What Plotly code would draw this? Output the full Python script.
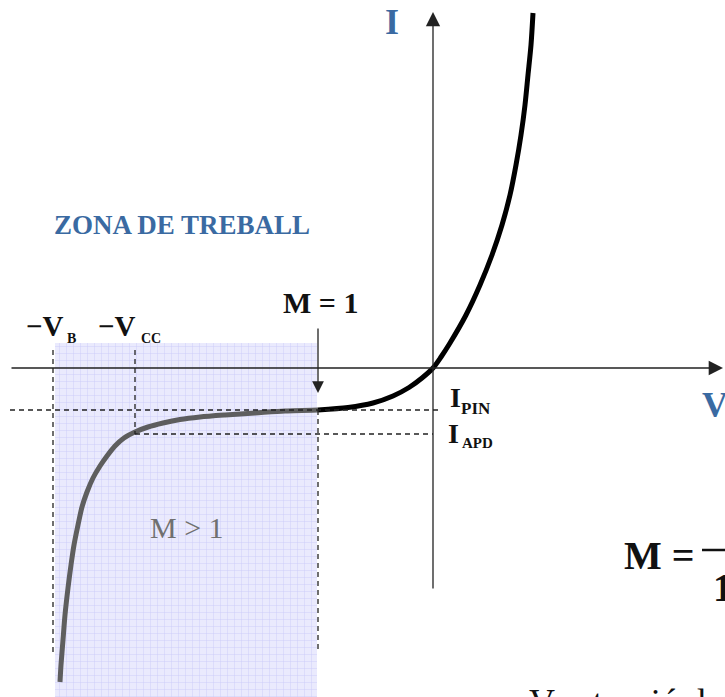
import plotly.graph_objects as go

# Avalanche photodiode I-V characteristic (arbitrary units, origin at V=0, I=0)
forward_v = [0, 8, 17, 33, 47, 59, 69, 77, 83, 88, 92, 95, 98, 100]
forward_i = [0, 11, 25, 53, 83, 113, 143, 173, 203, 233, 263, 293, 323, 355]

reverse_v = [-115, -85, -60, -40, -24, -11]
reverse_i = [-42, -39.5, -35, -28, -19.5, -10]

avalanche_v = [-115, -148, -178, -208, -233, -253, -270, -285, -298,
               -309, -318, -326, -333, -340, -346, -351, -355, -359,
               -362, -365, -368, -370, -372, -373]
avalanche_i = [-42, -43, -45, -47, -49, -51.5, -55, -59, -64,
               -70, -78, -88, -98, -110, -124, -139, -157, -177,
               -197, -220, -247, -272, -297, -314]

# Characteristic levels
I_PIN = -42
I_APD = -66
V_B = -380
V_CC = -298
V_M1 = -115

# Working zone (shaded)
zone_v = [-378, -116, -116, -378, -378]
zone_i = [25, 25, -335, -335, 25]

X_RANGE = [-433, 292]
Y_RANGE = [-329, 368]

SERIF = "Liberation Serif, Times New Roman, serif"
BLUE = "#3a6aa2"
INK = "#222222"

fig = go.Figure()

fig.add_trace(go.Scatter(
    x=zone_v, y=zone_i, mode="lines", fill="toself",
    line=dict(width=0, color="rgba(0,0,0,0)"),
    fillcolor="#e8e8fc",
    fillpattern=dict(shape="+", bgcolor="#eaeafd", fgcolor="#c9c9f7",
                     size=7, solidity=0.12, fillmode="replace"),
    hoverinfo="skip", showlegend=False))

# Axes drawn as lines with arrowheads
def arrow(x0, y0, x1, y1, width=1.3, size=2.2):
    fig.add_annotation(x=x1, y=y1, ax=x0, ay=y0, xref="x", yref="y",
                       axref="x", ayref="y", text="", showarrow=True,
                       arrowhead=2, arrowsize=size, arrowwidth=width,
                       arrowcolor=INK, standoff=0, startstandoff=0)

def seg(x0, y0, x1, y1, dash="solid", width=1.3, color=INK):
    fig.add_shape(type="line", x0=x0, y0=y0, x1=x1, y1=y1, xref="x", yref="y",
                  line=dict(color=color, width=width, dash=dash))

arrow(-423, 0, 290, 0)
arrow(0, -222, 0, 356)

DASH = "5px,4px"
seg(-423, I_PIN, 9, I_PIN, DASH)
seg(V_CC, I_APD, 0, I_APD, DASH)
seg(V_B, 18, V_B, -285, DASH)
seg(V_CC, 18, V_CC, I_APD, DASH)
seg(V_M1, I_PIN, V_M1, -285, DASH)

# M = 1 marker arrow
arrow(V_M1, 41, V_M1, -25, width=1.3, size=1.8)

# Curves: avalanche region (grey), then the PIN-like branch through the origin
fig.add_trace(go.Scatter(x=avalanche_v, y=avalanche_i, mode="lines",
                         line=dict(color="#5e5e5e", width=5, shape="spline",
                                   smoothing=0.8),
                         hoverinfo="skip", showlegend=False))
fig.add_trace(go.Scatter(x=reverse_v + forward_v, y=reverse_i + forward_i,
                         mode="lines",
                         line=dict(color="#000000", width=5, shape="spline",
                                   smoothing=0.8),
                         hoverinfo="skip", showlegend=False))

def label(x, y, text, size, color="#111111", bold=True, xanchor="center",
          yshift=0):
    fig.add_annotation(x=x, y=y, xref="x", yref="y", text=text, showarrow=False,
                       xanchor=xanchor, yanchor="middle", yshift=yshift,
                       font=dict(family=SERIF, size=size, color=color,
                                 weight="bold" if bold else "normal"))

label(-41, 346, "I", 36, BLUE)
label(282, -37, "V", 36, BLUE)
label(-251, 143, "ZONA DE TREBALL", 27, BLUE)

label(-388, 42, "\u2212V", 29)
label(-362, 30, "B", 14)
label(-316, 42, "\u2212V", 29)
label(-282, 30, "CC", 14)
label(-113, 66, "M = 1", 30)

label(22, -29, "I", 28)
label(43, -40, "PIN", 17)
label(20, -65, "I", 28)
label(44, -75, "APD", 15)

label(-246, -159, "M &gt; 1", 30, "#707070", bold=False)

label(189, -187, "M =", 40, xanchor="left")
seg(269, -182, 292, -182, width=2.5, color="#111111")
label(278, -219, "1 \u2212", 40, xanchor="left")

label(94, -325, "V = tensió de polarització", 36, bold=False,
      xanchor="left", yshift=-9)

fig.update_xaxes(range=X_RANGE, visible=False, fixedrange=True)
fig.update_yaxes(range=Y_RANGE, visible=False, fixedrange=True)
fig.update_layout(width=725, height=697, margin=dict(l=0, r=0, t=0, b=0),
                  paper_bgcolor="white", plot_bgcolor="white",
                  showlegend=False)

fig.write_html("out.html")
